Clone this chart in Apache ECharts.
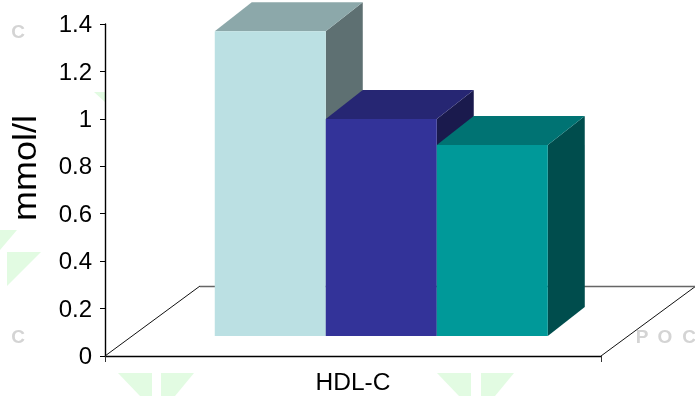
<!DOCTYPE html>
<html>
<head>
<meta charset="utf-8">
<style>html,body{margin:0;padding:0;background:#fff}#chart{width:695px;height:396px}</style>
<script src="https://cdn.jsdelivr.net/npm/echarts@6/dist/echarts.min.js"></script>
</head>
<body>
<div id="chart"></div>
<script>
// HDL-C levels for the three groups, in mmol/l
const categories = ['HDL-C'];
const groupNames = ['Group A', 'Group B', 'Group C'];
const groupValues = [1.285, 0.915, 0.805];
const yTicks = { min: 0, max: 1.4, interval: 0.2 };
const faceColors = ['#BBE0E3', '#333399', '#009999'];
const topColors = ['#8CA8AA', '#262673', '#007373'];
const sideColors = ['#5E7072', '#1A1A4D', '#004D4D'];

// Oblique projection of the 3D box and floor
const depth = { bar: [37, -29], floor: [95, -70], lift: 20 };
const barStart = 0.2213, barWidth = 0.2238;
const fontFamily = '"Liberation Sans", Arial, sans-serif';

function renderFloor(params, api) {
  const origin = api.coord([0, 0]);
  const band = api.size([1, 0])[0];
  const left = origin[0] - band / 2;
  const right = origin[0] + band / 2;
  const y = origin[1];
  const bx = depth.floor[0], by = depth.floor[1];
  return {
    type: 'group',
    children: [
      { type: 'line', shape: { x1: left, y1: y, x2: left + bx, y2: y + by },
        style: { stroke: '#111', lineWidth: 1 } },
      { type: 'line', shape: { x1: right, y1: y, x2: right + bx, y2: y + by },
        style: { stroke: '#111', lineWidth: 1 } },
      { type: 'line', shape: { x1: left + bx, y1: y + by + 0.5, x2: right + bx, y2: y + by + 0.5 },
        style: { stroke: '#666', lineWidth: 1.4 } }
    ]
  };
}

function boxRenderer(index) {
  return function (params, api) {
    const base = api.coord([0, 0]);
    const top = api.coord([0, api.value(1)]);
    const band = api.size([1, 0])[0];
    const x0 = base[0] - band / 2 + band * (barStart + barWidth * index);
    const x1 = x0 + band * barWidth;
    const yb = base[1] - depth.lift;
    const yt = top[1] - depth.lift;
    const dx = depth.bar[0], dy = depth.bar[1];
    return {
      type: 'group',
      children: [
        { type: 'polygon', shape: { points: [[x1, yb], [x1 + dx, yb + dy], [x1 + dx, yt + dy], [x1, yt]] },
          style: { fill: sideColors[index] } },
        { type: 'polygon', shape: { points: [[x0, yt], [x1, yt], [x1 + dx, yt + dy], [x0 + dx, yt + dy]] },
          style: { fill: topColors[index] } },
        { type: 'rect', shape: { x: x0, y: yt, width: x1 - x0, height: yb - yt },
          style: { fill: faceColors[index] } }
      ]
    };
  };
}

// Pale logo marks and lettering behind the plot
const paleGreen = '#E2FBE2';
const paleTriangles = [
  [[0, 230], [17, 230], [0, 250]],
  [[7, 252], [41, 252], [7, 286]],
  [[94, 92], [105, 92], [105, 102]],
  [[118, 373], [152, 373], [152, 396], [140, 396]],
  [[161, 373], [194, 373], [175, 396], [161, 396]],
  [[437, 373], [471, 373], [471, 396], [459, 396]],
  [[481, 373], [514, 373], [495, 396], [481, 396]]
];
const paleLetters = [
  { text: 'C', x: 18, y: 33 },
  { text: 'C', x: 18, y: 338 },
  { text: 'P', x: 642, y: 338 },
  { text: 'O', x: 665, y: 338 },
  { text: 'C', x: 689, y: 338 }
];

const backdrop = paleTriangles.map(points => ({
  type: 'polygon', z: -1, silent: true, shape: { points }, style: { fill: paleGreen }
})).concat(paleLetters.map(l => ({
  type: 'text', z: -1, silent: true, x: l.x, y: l.y,
  style: { text: l.text, fill: '#D4D4D4', fontFamily, fontWeight: 'bold', fontSize: 19, align: 'center', verticalAlign: 'middle' }
})));

const chart = echarts.init(document.getElementById('chart'), null, { renderer: 'canvas' });
chart.setOption({
  animation: false,
  backgroundColor: '#fff',
  grid: { left: 105, right: 94, top: 24, bottom: 40 },
  xAxis: {
    type: 'category',
    data: categories,
    axisLine: { lineStyle: { color: '#000', width: 1.4 } },
    axisTick: { show: true, length: 6, lineStyle: { color: '#333' } },
    axisLabel: { color: '#000', fontFamily, fontSize: 24.5, margin: 15 }
  },
  yAxis: {
    type: 'value',
    min: yTicks.min,
    max: yTicks.max,
    interval: yTicks.interval,
    splitLine: { show: false },
    axisLine: { show: true, lineStyle: { color: '#000', width: 1.4 } },
    axisTick: { show: true, length: 5, lineStyle: { color: '#000' } },
    axisLabel: { color: '#000', fontFamily, fontSize: 24, margin: 13, verticalAlign: 'top', lineHeight: 3 }
  },
  graphic: backdrop.concat([{
    type: 'text', x: 27, y: 168, rotation: Math.PI / 2, scaleX: 1.09, silent: true,
    style: { text: 'mmol/l', fill: '#000', fontFamily, fontSize: 33, align: 'center', verticalAlign: 'middle' }
  }]),
  series: [
    { type: 'custom', name: 'Floor', renderItem: renderFloor, data: [[0, 0]], z: 1, silent: true }
  ].concat(groupValues.map((value, i) => ({
    type: 'custom',
    name: groupNames[i],
    renderItem: boxRenderer(i),
    data: [[0, value]],
    z: 2 + i,
    silent: true
  })))
});
</script>
</body>
</html>
